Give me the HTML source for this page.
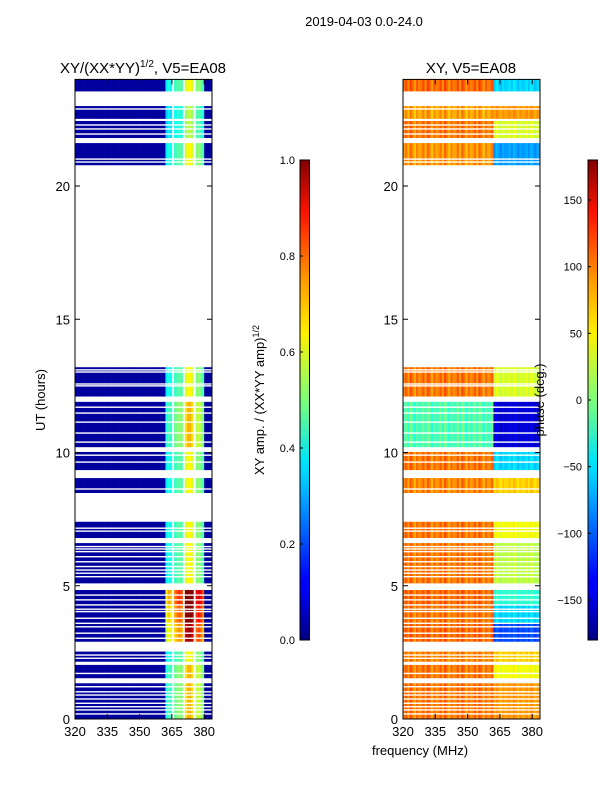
<!DOCTYPE html>
<html><head><meta charset="utf-8">
<style>
html,body{margin:0;padding:0;background:#fff;}
svg text{font-family:"Liberation Sans","DejaVu Sans",sans-serif;}
</style></head>
<body>
<svg id="fig" width="600" height="800" viewBox="0 0 600 800" xmlns="http://www.w3.org/2000/svg">
<defs>
<linearGradient id="jet" x1="0" y1="1" x2="0" y2="0">
<stop offset="0" stop-color="#000080"/><stop offset="0.11" stop-color="#0000ff"/>
<stop offset="0.125" stop-color="#0000ff"/><stop offset="0.34" stop-color="#00d0ff"/>
<stop offset="0.375" stop-color="#00e5f8"/><stop offset="0.5" stop-color="#7dff7a"/>
<stop offset="0.64" stop-color="#fff000"/><stop offset="0.75" stop-color="#ff9a00"/>
<stop offset="0.89" stop-color="#ff1300"/><stop offset="1" stop-color="#800000"/>
</linearGradient>
</defs>
<text x="364" y="26" font-size="13" text-anchor="middle">2019-04-03 0.0-24.0</text>
<text x="143" y="73" font-size="15" text-anchor="middle">XY/(XX*YY)<tspan font-size="10" dy="-6">1/2</tspan><tspan dy="6">, V5=EA08</tspan></text>
<text x="471" y="73" font-size="15" text-anchor="middle">XY, V5=EA08</text>
<g id="left"></g>
<g id="right"></g>
<g id="axes"></g>
<text transform="translate(45,400) rotate(-90)" font-size="13" text-anchor="middle">UT (hours)</text>
<text x="420" y="755" font-size="13" text-anchor="middle">frequency (MHz)</text>
<rect x="300" y="160" width="9.5" height="480" fill="url(#jet)" stroke="#000" stroke-width="1"/>
<rect x="588" y="160" width="9.5" height="480" fill="url(#jet)" stroke="#000" stroke-width="1"/>
<text transform="translate(264,400) rotate(-90)" font-size="13" text-anchor="middle">XY amp. / (XX*YY amp)<tspan font-size="9" dy="-5">1/2</tspan></text>
<text transform="translate(544,400) rotate(-90)" font-size="13" text-anchor="middle">phase (deg.)</text>
<g id="cb"></g>
</svg>
<script>
const segStart=[23.55,22.52,21.8,20.78,12.1,10.2,9.34,8.48,6.79,5.09,4.3,3.6,2.9,2.15,1.53,0];
const segEnd  =[24.0,23.0,22.44,21.61,13.2,11.9,10.02,9.04,7.4,6.6,4.84,4.3,3.6,2.53,2.03,1.34];
const segAmp  =[0.45,0.40,0.40,0.45,0.45,0.50,0.45,0.45,0.45,0.45,0.80,0.75,0.70,0.45,0.50,0.50];
const segPhLo =[95,75,90,80,90,-20,90,85,90,90,95,90,95,85,90,90];
const segPhHi =[-60,80,30,-80,30,-150,-60,60,40,20,-30,-60,-110,60,40,80];
const whiteLines=[22.89,22.29,22.14,21.95,21.01,20.9,13.1,13.02,12.57,12.5,11.7,11.48,11.14,10.73,10.39,9.9,9.64,8.63,7.16,7.05,6.47,6.38,6.28,6.09,5.9,5.72,5.59,5.47,5.34,4.65,4.47,4.28,4.12,4.03,3.78,3.59,3.46,3.22,3.03,2.4,2.28,1.71,1.21,1.02,0.9,0.75,0.59,0.46,0.34,0.19];
const hiProfile=[0.8,0.9,0.85,-1,0.95,1.0,1.05,1.0,-1,1.3,1.4,1.4,1.3,-1,1.1,1.15,1.1,1.0];
const loTex=[0,15,-10,20,5,-15,10,-5];
const yTicks=[0,5,10,15,20];
const xTicks=[320,335,350,365,380];
const ampTicks=[0.0,0.2,0.4,0.6,0.8,1.0];
const phTicks=[150,100,50,0,-50,-100,-150];

const NS='http://www.w3.org/2000/svg';
const F0=320,FMAX=383.63,HIF=362,PX=2.153;
const panels=[75,403],TOP=79.4,BOT=719;
function xs(f,p){return panels[p]+(f-F0)*PX;}
function ys(h){return BOT-h*26.65;}
function jet(t){t=Math.max(0,Math.min(1,t));
 const c=v=>Math.round(255*Math.max(0,Math.min(1,v)));
 return 'rgb('+c(1.5-Math.abs(4*t-3))+','+c(1.5-Math.abs(4*t-2))+','+c(1.5-Math.abs(4*t-1))+')';}
function mk(tag,attrs,parent){const e=document.createElementNS(NS,tag);for(const k in attrs)e.setAttribute(k,attrs[k]);parent.appendChild(e);return e;}
const L=document.getElementById('left'),R=document.getElementById('right');
for(let s=0;s<segStart.length;s++){
 const y0=ys(segEnd[s]),y1=ys(segStart[s]);
 for(let f=F0;f<FMAX;f++){
  const f2=Math.min(f+1,FMAX);
  let amp=0.03,white=false;
  if(f>=HIF&&f-HIF<hiProfile.length){const p=hiProfile[f-HIF];if(p<0)white=true;else amp=segAmp[s]*p;}
  if(!white){
   const r=mk('rect',{x:xs(f,0),y:y0,width:(f2-f)*PX+0.3,height:y1-y0,fill:jet(amp)},L);
   
   
  }
  let ph=f<HIF?segPhLo[s]+loTex[f%loTex.length]:segPhHi[s]+loTex[f%loTex.length]*0.5;
  const r2=mk('rect',{x:xs(f,1),y:y0,width:(f2-f)*PX+0.3,height:y1-y0,fill:jet((ph+180)/360)},R);
  
  
 }
}
for(const h of whiteLines){for(let p=0;p<2;p++){
 const w=mk('rect',{x:panels[p],y:ys(h)-0.7,width:137,height:1.4,fill:'#fff'},p?R:L);
 
 
}}
const A=document.getElementById('axes');
for(let p=0;p<2;p++){
 const fr=mk('rect',{x:panels[p],y:TOP,width:137,height:BOT-TOP,fill:'none',stroke:'#000','stroke-width':1},A);
 
 
 for(const t of yTicks){const y=ys(t);
  mk('line',{x1:panels[p],x2:panels[p]+5,y1:y,y2:y,stroke:'#000'},A);
  mk('line',{x1:panels[p]+137,x2:panels[p]+132,y1:y,y2:y,stroke:'#000'},A);
  const tx=mk('text',{x:panels[p]-5,y:y+5,'font-size':13,'text-anchor':'end'},A);tx.textContent=t;
  
  
 }
 for(const t of xTicks){const x=xs(t,p);
  mk('line',{x1:x,x2:x,y1:BOT,y2:BOT-5,stroke:'#000'},A);
  mk('line',{x1:x,x2:x,y1:TOP,y2:TOP+5,stroke:'#000'},A);
  const tx=mk('text',{x:x,y:736,'font-size':13,'text-anchor':'middle'},A);tx.textContent=t;
  
  
 }
}
const C=document.getElementById('cb');
for(const t of ampTicks){const y=640-t*480;
 mk('line',{x1:300,x2:303,y1:y,y2:y,stroke:'#000'},C);
 const tx=mk('text',{x:295,y:y+4,'font-size':11,'text-anchor':'end'},C);tx.textContent=t.toFixed(1);
 
 
}
for(const t of phTicks){const y=400-t*480/360;
 mk('line',{x1:588,x2:591,y1:y,y2:y,stroke:'#000'},C);
 const tx=mk('text',{x:582,y:y+4,'font-size':11,'text-anchor':'end'},C);tx.textContent=t<0?'\u2212'+(-t):t;
 
 
}
</script>
</body></html>
